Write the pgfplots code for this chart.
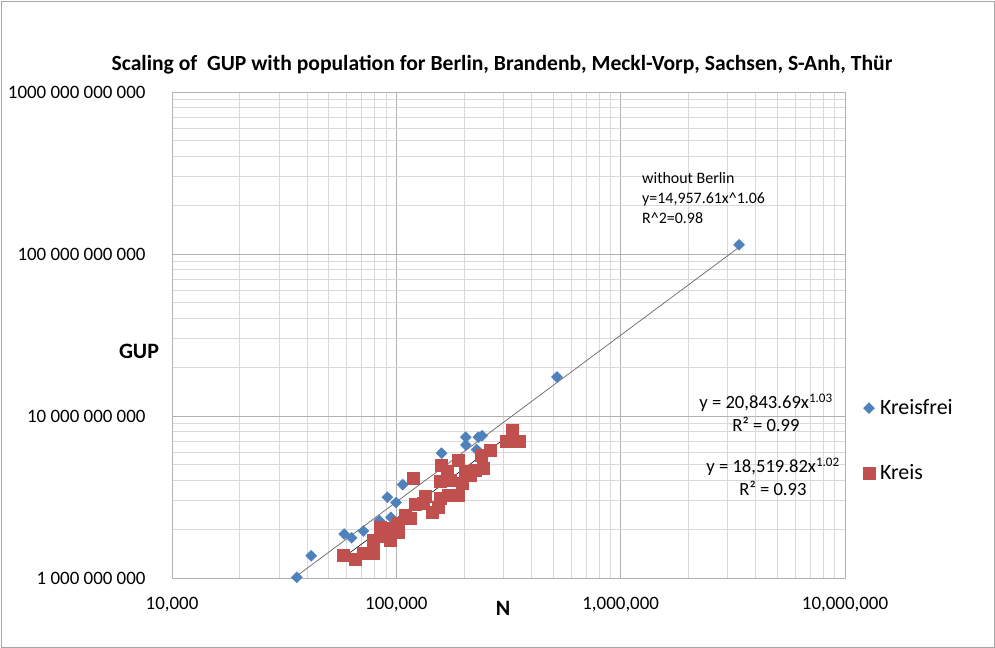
\documentclass[border=0pt]{standalone}
\usepackage{pgfplots}
\pgfplotsset{compat=1.18}
\usepackage{fontspec}
\setmainfont{Carlito}
\definecolor{kfblue}{HTML}{4F81BD}
\definecolor{kred}{HTML}{C0504D}
\begin{document}
\begin{tikzpicture}[x=1bp,y=1bp]
\useasboundingbox (0,0) rectangle (995,648);
\draw[gray!70] (1,1) rectangle (994,647);
\begin{axis}[
  at={(172bp,70bp)}, anchor=south west,
  scale only axis, width=673bp, height=486bp,
  xmode=log, ymode=log,
  xmin=1e4, xmax=1e7, ymin=1e9, ymax=1e12,
  xtick={1e4,1e5,1e6,1e7},
  xticklabels={{10,000},{100,000},{1,000,000},{10,000,000}},
  ytick={1e9,1e10,1e11,1e12},
  yticklabels={{1 000 000 000},{10 000 000 000},{100 000 000 000},{1000 000 000 000}},
  grid=both,
  major grid style={gray!60, line width=0.7bp},
  minor grid style={gray!30, line width=0.7bp},
  axis line style={gray!60},
  tick style={draw=none},
  ticklabel style={font=\fontsize{19}{22}\selectfont},
  xticklabel style={yshift=-16bp},
  yticklabel style={xshift=-23bp},
  clip=false,
  legend style={at={(1.022,0.283)}, anchor=west, draw=none, fill=none,
    font=\fontsize{22}{25}\selectfont, row sep=44bp,
    nodes={inner xsep=5bp}},
  legend cell align=left,
]
\addplot[only marks, mark=square*, mark size=3.9bp, mark options={rotate=45, fill=kfblue, draw=kfblue}] table {
N GUP
36000 1.01e9
41700 1.37e9
58500 1.87e9
63200 1.77e9
71300 1.95e9
84000 2.26e9
94600 2.37e9
91200 3.15e9
99700 2.92e9
106700 3.77e9
159000 5.89e9
204000 7.40e9
204000 6.62e9
232000 7.40e9
241000 7.55e9
228000 6.20e9
520000 17.4e9
3370000 1.14e11
};
\addlegendentry{Kreisfrei}
\addplot[only marks, mark=square*, mark size=6bp, mark options={fill=kred, draw=kred}] table {
N GUP
57700 1.39e9
65500 1.30e9
71300 1.42e9
78500 1.42e9
78900 1.72e9
84500 1.80e9
84500 2.07e9
93700 1.72e9
93700 2.03e9
102000 1.93e9
102000 2.19e9
109000 2.45e9
115000 2.34e9
121000 2.86e9
119000 4.12e9
132000 2.89e9
135000 3.18e9
144000 2.53e9
154000 2.75e9
157000 3.10e9
159000 4.99e9
171000 3.25e9
168000 4.53e9
173000 4.03e9
188000 3.25e9
189000 5.35e9
196000 3.85e9
202000 4.53e9
213000 4.33e9
224000 4.64e9
244000 4.75e9
240000 5.74e9
262000 6.17e9
310000 6.94e9
327000 8.20e9
353000 6.94e9
157000 3.93e9
};
\addlegendentry{Kreis}
\addplot[forget plot, gray!80!black, line width=0.7bp] coordinates {(35000,1.0e9) (3370000,1.10e11)};
\addplot[forget plot, black!85, line width=0.7bp] coordinates {(57700,1.33e9) (353000,8.44e9)};
\end{axis}
\node[font=\bfseries\fontsize{21.7}{24}\selectfont] at (502,583) {Scaling of\ \ GUP with population for Berlin, Brandenb, Meckl-Vorp, Sachsen, S-Anh, Thür};
\node[font=\bfseries\fontsize{22}{25}\selectfont] at (139,297) {GUP};
\node[font=\bfseries\fontsize{22}{25}\selectfont] at (503,40) {N};
\node[anchor=north west, align=left, font=\fontsize{16}{20}\selectfont, inner sep=0pt] at (642,476) {without Berlin\\y=14,957.61x\textasciicircum 1.06\\R\textasciicircum 2=0.98};
\node[align=center, font=\fontsize{18.7}{23}\selectfont, inner sep=0pt] at (766,235) {y = 20,843.69x\textsuperscript{1.03}\\R² = 0.99};
\node[align=center, font=\fontsize{18.7}{23}\selectfont, inner sep=0pt] at (773,171) {y = 18,519.82x\textsuperscript{1.02}\\R² = 0.93};
\end{tikzpicture}
\end{document}
